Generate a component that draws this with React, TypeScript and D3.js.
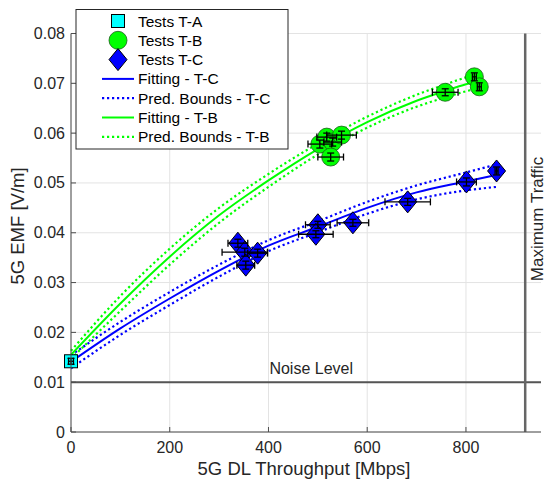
import React from 'react';
import * as d3 from 'd3';

// ---------- data ----------
const xTicks = [0, 200, 400, 600, 800];
const yTicks = [0, 0.01, 0.02, 0.03, 0.04, 0.05, 0.06, 0.07, 0.08];

const taX = [0];
const taY = [0.0142];
const taXErr = [5];
const taYErr = [0.0006];

const tbX = [817, 827, 758, 504, 518, 530, 548, 526];
const tbY = [0.0713, 0.0693, 0.0682, 0.0578, 0.0592, 0.0582, 0.0596, 0.0552];
const tbXErr = [4, 4, 26, 24, 20, 18, 30, 26];
const tbYErr = [0.0008, 0.0008, 0.0007, 0.0008, 0.0008, 0.0008, 0.0008, 0.0008];

const tcX = [862, 801, 682, 571, 500, 496, 338, 352, 378, 354];
const tcY = [0.0524, 0.0502, 0.0462, 0.042, 0.0416, 0.0397, 0.0379, 0.0361, 0.0359, 0.0335];
const tcXErr = [3, 20, 46, 32, 25, 35, 20, 46, 20, 18];
const tcYErr = [0.0008, 0.0008, 0.0007, 0.0007, 0.0007, 0.0007, 0.0008, 0.0008, 0.0008, 0.0008];

const fitCX = [0, 100, 200, 300, 400, 500, 600, 700, 800, 862];
const fitC = [0.0141, 0.0208, 0.0268, 0.0324, 0.0374, 0.0412, 0.045, 0.0481, 0.0503, 0.0516];
const upperC = [0.0154, 0.0221, 0.0281, 0.0336, 0.0385, 0.0423, 0.0462, 0.0495, 0.0521, 0.0537];
const lowerC = [0.0128, 0.0195, 0.0255, 0.0312, 0.0363, 0.0401, 0.0438, 0.0467, 0.0485, 0.0492];

const fitBX = [0, 100, 200, 300, 400, 500, 600, 700, 759, 800, 830];
const fitB = [0.0155, 0.0258, 0.0352, 0.0435, 0.0505, 0.0568, 0.0622, 0.0665, 0.0685, 0.0698, 0.0706];
const upperB = [0.0163, 0.0273, 0.0368, 0.045, 0.0518, 0.0579, 0.0633, 0.0677, 0.0698, 0.0712, 0.0721];
const lowerB = [0.0147, 0.0243, 0.0336, 0.042, 0.0492, 0.0557, 0.0611, 0.0653, 0.0672, 0.0684, 0.0691];

const noiseLevel = 0.01;
const maxTraffic = 920;

const legendItems = [
  { label: 'Tests T-A', kind: 'square' },
  { label: 'Tests T-B', kind: 'circle' },
  { label: 'Tests T-C', kind: 'diamond' },
  { label: 'Fitting - T-C', kind: 'lineC' },
  { label: 'Pred. Bounds - T-C', kind: 'dotC' },
  { label: 'Fitting - T-B', kind: 'lineB' },
  { label: 'Pred. Bounds - T-B', kind: 'dotB' },
];

// ---------- layout ----------
const W = 548;
const H = 483;
const FONT = 'Liberation Sans, Arial, Helvetica, sans-serif';
const TXT = '#262626';
const BLUE = '#0000ff';
const GREEN = '#00ff00';
const CYAN = '#00ffff';

const x = d3.scaleLinear().domain([0, 952]).range([71, 541]);
const y = d3.scaleLinear().domain([0, 0.08]).range([432, 33.5]);

const lineGen = (xs: number[], ys: number[]) =>
  d3
    .line<number>()
    .x((_, i) => x(xs[i]))
    .y((d) => y(d))
    .curve(d3.curveMonotoneX)(ys) || '';

function ErrBar({ cx, cy, ex, ey }: { cx: number; cy: number; ex: number; ey: number }) {
  const x0 = x(cx - ex), x1 = x(cx + ex), px = x(cx);
  const y0 = y(cy - ey), y1 = y(cy + ey), py = y(cy);
  const c = 3.5;
  return (
    <g stroke="#000" strokeWidth={1.3} fill="none">
      <line x1={x0} x2={x1} y1={py} y2={py} />
      <line x1={x0} x2={x0} y1={py - c} y2={py + c} />
      <line x1={x1} x2={x1} y1={py - c} y2={py + c} />
      <line x1={px} x2={px} y1={y0} y2={y1} />
      <line x1={px - c} x2={px + c} y1={y0} y2={y0} />
      <line x1={px - c} x2={px + c} y1={y1} y2={y1} />
    </g>
  );
}

function Marker({ kind, cx, cy }: { kind: string; cx: number; cy: number }) {
  if (kind === 'square')
    return <rect x={cx - 6.5} y={cy - 6.5} width={13} height={13} fill={CYAN} stroke="#000" strokeWidth={1} />;
  if (kind === 'circle')
    return <circle cx={cx} cy={cy} r={9} fill={GREEN} stroke="#1a5c1a" strokeWidth={0.8} />;
  return (
    <path
      d={`M${cx},${cy - 11}L${cx + 9},${cy}L${cx},${cy + 11}L${cx - 9},${cy}Z`}
      fill={BLUE}
      stroke="#000"
      strokeWidth={1}
    />
  );
}

export default function App() {
  const xMin = x(0), xMax = x(952);
  const yBot = y(0), yTop = y(0.08);
  const legX = 76, legY = 9.5, legW = 212, legH = 139.5;
  const rowY = (i: number) => 21 + i * 19.3;

  return (
    <div style={{ position: 'absolute', left: 0, top: 0 }}>
      <svg width={W} height={H} style={{ display: 'block', background: '#fff' }} fontFamily={FONT}>
        <rect x={0} y={0} width={W} height={H} fill="#fff" />
        {/* grid */}
        <g stroke="#e3e3e3" strokeWidth={1}>
          {xTicks.map((t) => (
            <line key={'gx' + t} x1={x(t)} x2={x(t)} y1={yTop} y2={yBot} />
          ))}
          {yTicks.map((t) => (
            <line key={'gy' + t} x1={xMin} x2={xMax} y1={y(t)} y2={y(t)} />
          ))}
        </g>

        {/* reference lines */}
        <line x1={xMin} x2={xMax} y1={y(noiseLevel)} y2={y(noiseLevel)} stroke="#555" strokeWidth={2} />
        <line x1={x(maxTraffic)} x2={x(maxTraffic)} y1={yTop} y2={yBot} stroke="#666" strokeWidth={2.5} />
        <text x={353} y={y(noiseLevel) - 8} fontSize={16} fill={TXT} textAnchor="end">
          Noise Level
        </text>
        <text
          transform={`translate(543,219) rotate(-90)`}
          fontSize={17}
          fill={TXT}
          textAnchor="middle"
        >
          Maximum Traffic
        </text>

        {/* fits */}
        <g fill="none">
          <path d={lineGen(fitCX, fitC)} stroke={BLUE} strokeWidth={2} />
          <path d={lineGen(fitCX, upperC)} stroke={BLUE} strokeWidth={2.2} strokeDasharray="2.2,2.8" />
          <path d={lineGen(fitCX, lowerC)} stroke={BLUE} strokeWidth={2.2} strokeDasharray="2.2,2.8" />
          <path d={lineGen(fitBX, fitB)} stroke={GREEN} strokeWidth={2} />
          <path d={lineGen(fitBX, upperB)} stroke={GREEN} strokeWidth={2.2} strokeDasharray="2.2,2.8" />
          <path d={lineGen(fitBX, lowerB)} stroke={GREEN} strokeWidth={2.2} strokeDasharray="2.2,2.8" />
        </g>

        {/* markers */}
        {tcX.map((v, i) => (
          <Marker key={'c' + i} kind="diamond" cx={x(v)} cy={y(tcY[i])} />
        ))}
        {tbX.map((v, i) => (
          <Marker key={'b' + i} kind="circle" cx={x(v)} cy={y(tbY[i])} />
        ))}
        {taX.map((v, i) => (
          <Marker key={'a' + i} kind="square" cx={x(v)} cy={y(taY[i])} />
        ))}
        {/* error bars */}
        {tcX.map((v, i) => (
          <ErrBar key={'ec' + i} cx={v} cy={tcY[i]} ex={tcXErr[i]} ey={tcYErr[i]} />
        ))}
        {tbX.map((v, i) => (
          <ErrBar key={'eb' + i} cx={v} cy={tbY[i]} ex={tbXErr[i]} ey={tbYErr[i]} />
        ))}
        {taX.map((v, i) => (
          <ErrBar key={'ea' + i} cx={v} cy={taY[i]} ex={taXErr[i]} ey={taYErr[i]} />
        ))}

        {/* axes */}
        <g stroke="#4d4d4d" strokeWidth={1}>
          <line x1={xMin} x2={xMin} y1={yTop} y2={yBot} />
          <line x1={xMin} x2={xMax} y1={yBot} y2={yBot} />
          {xTicks.map((t) => (
            <line key={'tx' + t} x1={x(t)} x2={x(t)} y1={yBot} y2={yBot - 5} />
          ))}
          {yTicks.map((t) => (
            <line key={'ty' + t} x1={xMin} x2={xMin + 5} y1={y(t)} y2={y(t)} />
          ))}
        </g>
        <g fontSize={16} fill={TXT}>
          {xTicks.map((t) => (
            <text key={'lx' + t} x={x(t)} y={yBot + 21} textAnchor="middle">
              {t}
            </text>
          ))}
          {yTicks.map((t) => (
            <text key={'ly' + t} x={xMin - 6} y={y(t) + 5.5} textAnchor="end">
              {t === 0 ? '0' : d3.format('.2f')(t)}
            </text>
          ))}
        </g>
        <text x={304} y={475} fontSize={18.5} fill={TXT} textAnchor="middle">
          5G DL Throughput [Mbps]
        </text>
        <text
          transform={`translate(24,226) rotate(-90)`}
          fontSize={18.5}
          fill={TXT}
          textAnchor="middle"
        >
          5G EMF [V/m]
        </text>

        {/* legend */}
        <rect x={legX} y={legY} width={legW} height={legH} fill="#fff" stroke="#262626" strokeWidth={1} />
        {legendItems.map((it, i) => {
          const cy = rowY(i);
          let sym: React.ReactNode = null;
          if (it.kind === 'square' || it.kind === 'circle' || it.kind === 'diamond') {
            sym = <Marker kind={it.kind} cx={118} cy={cy} />;
          } else {
            const col = it.kind.endsWith('C') ? BLUE : GREEN;
            const dotted = it.kind.startsWith('dot');
            sym = (
              <line
                x1={102}
                x2={134}
                y1={cy}
                y2={cy}
                stroke={col}
                strokeWidth={dotted ? 2.2 : 2}
                strokeDasharray={dotted ? '2.2,2.8' : undefined}
              />
            );
          }
          return (
            <g key={it.label}>
              {sym}
              <text x={138} y={cy + 5.5} fontSize={15.5} fill="#000">
                {it.label}
              </text>
            </g>
          );
        })}
      </svg>
    </div>
  );
}
